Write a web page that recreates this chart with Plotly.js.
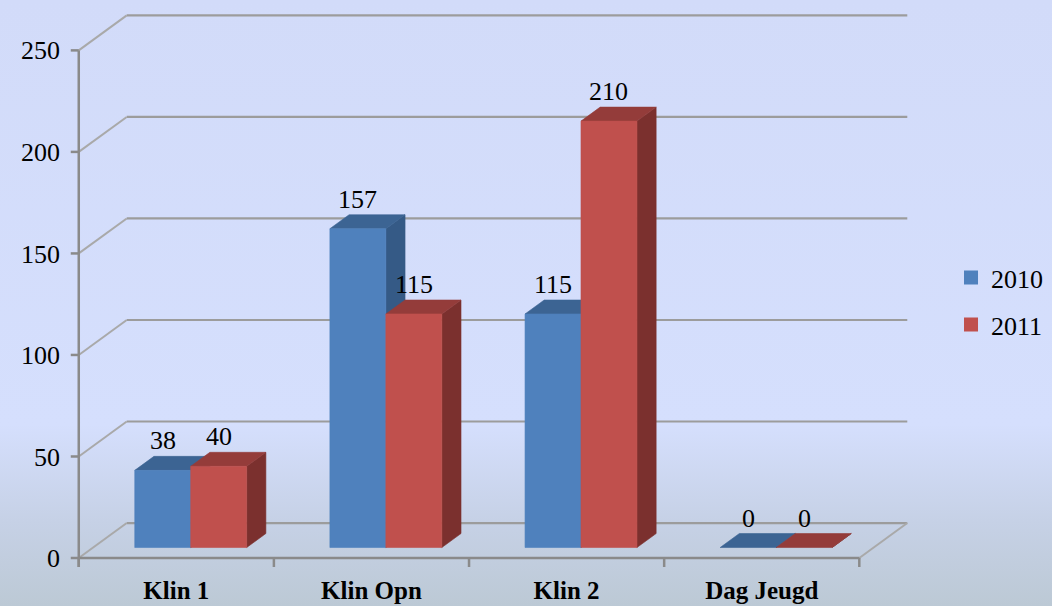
<!DOCTYPE html>
<html>
<head>
<meta charset="utf-8">
<script src="https://cdn.plot.ly/plotly-3.0.1.min.js"></script>
<style>
  html, body { margin: 0; padding: 0; }
  #chart {
    width: 1052px; height: 606px;
    background: linear-gradient(to bottom, #d2dbf9 0%, #d5dffd 70%, #c6d1e6 86%, #bcc9d5 100%);
  }
</style>
</head>
<body>
<div id="chart"></div>
<script>
// ---- data ----
const categories = ['Klin 1', 'Klin Opn', 'Klin 2', 'Dag Jeugd'];
const seriesNames = ['2010', '2011'];
const values2010 = [38, 157, 115, 0];
const values2011 = [40, 115, 210, 0];
const yTickValues = [0, 50, 100, 150, 200, 250];

// ---- pseudo-3D geometry (in axis units) ----
const DX = 0.2458;   // full depth, horizontal (category units)
const DY = 17.22;    // full depth, vertical (value units)
const FRONT = 0.3;   // bar front face depth position
const DEPTH = 0.4;   // bar depth fraction
const BW = 0.2868;   // bar width
const YMIN = -4.43;

const serif = "'Liberation Serif', 'Times New Roman', Times, serif";

const colors = {
  '2010': { front: '#4f81bd', top: '#3c6493', side: '#355a86' },
  '2011': { front: '#c0504d', top: '#943c3a', side: '#7b302e' }
};

const traces = [];
function seg(xs, ys, color, width) {
  traces.push({ type: 'scatter', mode: 'lines', x: xs, y: ys, line: { color: color, width: width },
    hoverinfo: 'skip', showlegend: false });
}
function poly(xs, ys, color) {
  traces.push({ type: 'scatter', mode: 'lines', x: xs.concat([xs[0]]), y: ys.concat([ys[0]]),
    fill: 'toself', fillcolor: color, line: { color: color, width: 0.6 },
    hoverinfo: 'skip', showlegend: false });
}

const n = categories.length;
const xL = -0.5, xR = n - 0.5;

// back wall gridlines and side-wall diagonals
{
  const hx = [], hy = [], dx = [], dy = [];
  yTickValues.forEach(v => {
    hx.push(xL + DX, xR + DX, null); hy.push(v + DY, v + DY, null);
    dx.push(xL, xL + DX, null); dy.push(v, v + DY, null);
  });
  dx.push(xR, xR + DX, null); dy.push(0, DY, null);
  seg(hx, hy, '#9c9c9c', 2.2);
  seg(dx, dy, '#a9a9a9', 2);
}
// front floor edge, value axis line, tick marks
seg([xL, xR], [0, 0], '#8a8a8a', 2.5);
seg([xL, xL], [YMIN, 250], '#8a8a8a', 2.5);
{
  const tx = [], ty = [];
  yTickValues.forEach(v => { tx.push(xL - 8 / 195.14, xL, null); ty.push(v, v, null); });
  seg(tx, ty, '#8a8a8a', 2.5);
  const bx = [], by = [];
  for (let i = 0; i <= n; i++) { bx.push(i - 0.5, i - 0.5, null); by.push(0, YMIN, null); }
  seg(bx, by, '#8a8a8a', 2.5);
}

// bars (side, top, front faces) and value labels
const fx = FRONT * DX, fy = FRONT * DY, dX = DEPTH * DX, dY = DEPTH * DY;
const annotations = [];
function bar(x0, x1, v, c) {
  poly([x1, x1 + dX, x1 + dX, x1], [fy, fy + dY, v + fy + dY, v + fy], c.side);
  poly([x0, x1, x1 + dX, x0 + dX], [v + fy, v + fy, v + fy + dY, v + fy + dY], c.top);
  if (v > 0) poly([x0, x1, x1, x0], [fy, fy, v + fy, v + fy], c.front);
  annotations.push({ x: (x0 + x1) / 2, y: v + fy + dY, xref: 'x', yref: 'y', text: String(v),
    showarrow: false, yanchor: 'bottom', yshift: -1,
    font: { family: serif, size: 26, color: '#000' } });
}
for (let i = 0; i < n; i++) {
  const mid = i + fx;
  bar(mid - BW, mid, values2010[i], colors['2010']);
  bar(mid, mid + BW, values2011[i], colors['2011']);
}

// legend entries
seriesNames.forEach((name, k) => {
  traces.push({ type: 'scatter', mode: 'markers', x: [null], y: [null], name: name,
    legendgroup: 'g' + k,
    marker: { symbol: 'square', size: 14, color: colors[name].front } });
});

const layout = {
  width: 1052, height: 606,
  font: { family: serif, size: 26, color: '#000' },
  margin: { l: 69, r: 140, t: 12, b: 39 },
  paper_bgcolor: 'rgba(0,0,0,0)',
  plot_bgcolor: 'rgba(0,0,0,0)',
  showlegend: true,
  legend: {
    xref: 'container', yref: 'container', x: 0.904, y: 0.503, xanchor: 'left', yanchor: 'middle',
    font: { family: serif, size: 26, color: '#000' }, tracegroupgap: 10,
    bgcolor: 'rgba(0,0,0,0)', traceorder: 'grouped'
  },
  xaxis: {
    type: 'linear', range: [-0.55, 3.77], tickvals: [0, 1, 2, 3], ticktext: categories,
    showgrid: false, zeroline: false, showline: false, ticks: '', ticklabelstandoff: 6,
    tickfont: { family: serif, size: 25, color: '#000', weight: 'bold' }, fixedrange: true
  },
  yaxis: {
    range: [YMIN, 268.9], tickvals: yTickValues, ticktext: yTickValues.map(String),
    showgrid: false, zeroline: false, showline: false, ticks: '', ticklabelstandoff: 8,
    tickfont: { family: serif, size: 26, color: '#000' }, fixedrange: true
  },
  annotations: annotations
};

Plotly.newPlot('chart', traces, layout, { displayModeBar: false, staticPlot: true });
</script>
</body>
</html>
